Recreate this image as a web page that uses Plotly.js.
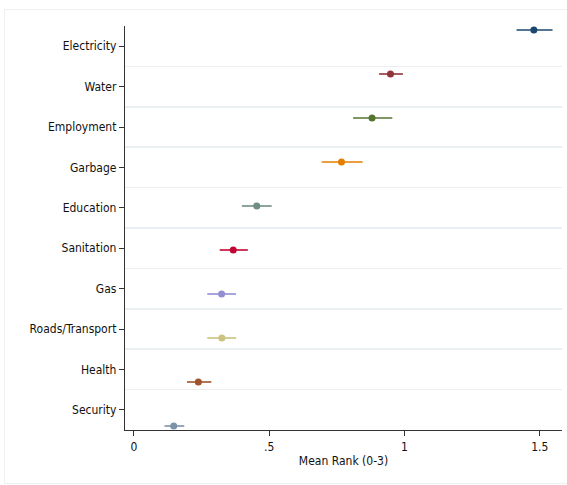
<!DOCTYPE html>
<html>
<head>
<meta charset="utf-8">
<script src="https://cdn.plot.ly/plotly-3.0.1.min.js"></script>
<style>
  html, body { margin: 0; padding: 0; background: #ffffff; }
  #frame { position: absolute; left: 4px; top: 9px; width: 580px; height: 475px; border: 1px solid #eef0f1; box-sizing: border-box; pointer-events: none; }
  #chart { position: absolute; left: 0; top: 0; width: 567px; height: 485px; }
</style>
</head>
<body>
<div id="chart"></div>
<div id="frame"></div>
<script>
// Categories (top to bottom)
const categories = ["Electricity", "Water", "Employment", "Garbage", "Education",
                    "Sanitation", "Gas", "Roads/Transport", "Health", "Security"];
// Mean rank estimates
const means = [1.478, 0.948, 0.880, 0.767, 0.454, 0.367, 0.324, 0.325, 0.238, 0.147];
// Confidence interval bounds
const lower = [1.414, 0.906, 0.810, 0.694, 0.399, 0.317, 0.271, 0.271, 0.196, 0.113];
const upper = [1.547, 0.994, 0.955, 0.845, 0.509, 0.421, 0.377, 0.378, 0.286, 0.186];
// Stata s2color palette
const colors = ["#1a476f", "#90353b", "#55752f", "#e37e00", "#6e8e84",
                "#c10534", "#938dd2", "#cac27e", "#a0522d", "#7b92a8"];
const xTickVals = [0, 0.5, 1, 1.5];
const xTickText = ["0", ".5", "1", "1.5"];

const idx = categories.map((c, i) => i);
const traces = categories.map((c, i) => ({
  type: "scatter",
  mode: "markers",
  x: [means[i]],
  y: [i],
  yaxis: "y2",
  name: c,
  marker: { color: colors[i], size: 7 },
  error_x: {
    type: "data",
    symmetric: false,
    array: [upper[i] - means[i]],
    arrayminus: [means[i] - lower[i]],
    color: colors[i],
    thickness: 1.6,
    width: 0
  },
  hoverinfo: "x+name"
}));
// invisible anchor trace so the labelled category axis is drawn
traces.unshift({
  type: "scatter",
  mode: "markers",
  x: means,
  y: idx,
  yaxis: "y",
  marker: { opacity: 0, size: 1 },
  hoverinfo: "skip",
  showlegend: false
});

const font = { family: "DejaVu Sans Condensed, Liberation Sans, Arial, sans-serif", size: 12, color: "#111111" };
const n = categories.length;
const pad = 1 / (n + 1);

const layout = {
  width: 567,
  height: 485,
  margin: { l: 125, r: 5, t: 26, b: 55 },
  paper_bgcolor: "#ffffff",
  plot_bgcolor: "#ffffff",
  showlegend: false,
  font: font,
  xaxis: {
    range: [-0.033, 1.582],
    tickmode: "array",
    tickvals: xTickVals,
    ticktext: xTickText,
    ticks: "outside",
    ticklen: 5,
    tickwidth: 1,
    tickcolor: "#333333",
    showline: true,
    linecolor: "#333333",
    linewidth: 1.2,
    showgrid: false,
    zeroline: false,
    tickfont: font,
    title: { text: "Mean Rank (0-3)", font: font, standoff: 4 }
  },
  yaxis: {
    range: [n - 0.5, -0.5],
    tickmode: "array",
    tickvals: idx,
    ticktext: categories,
    ticks: "outside",
    ticklen: 5,
    tickwidth: 1,
    tickcolor: "#333333",
    showline: true,
    linecolor: "#333333",
    linewidth: 1.2,
    showgrid: false,
    zeroline: false,
    tickfont: font,
    minor: {
      tickmode: "array",
      tickvals: idx.slice(0, n - 1).map(i => i + 0.5),
      showgrid: true,
      gridcolor: "#eaf0f2",
      gridwidth: 1.6,
      ticks: ""
    }
  },
  yaxis2: {
    overlaying: "y",
    range: [n - 1 + pad, -pad],
    showticklabels: false,
    showgrid: false,
    showline: false,
    zeroline: false,
    ticks: ""
  }
};

Plotly.newPlot("chart", traces, layout, { displayModeBar: false, staticPlot: true });
</script>
</body>
</html>
